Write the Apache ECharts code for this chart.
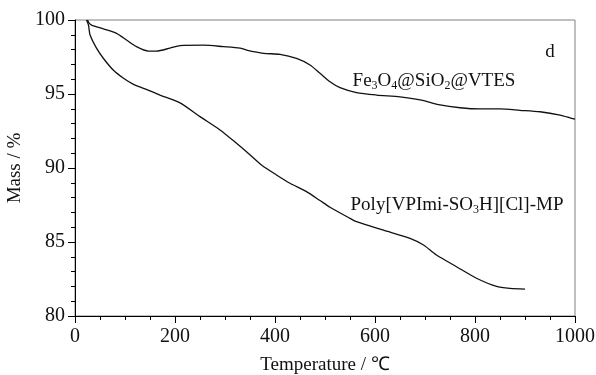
<!DOCTYPE html>
<html>
<head>
<meta charset="utf-8">
<script src="https://cdn.jsdelivr.net/npm/echarts@6/dist/echarts.min.js"></script>
<style>html,body{margin:0;padding:0;background:#fff}#c{width:596px;height:375px}</style>
</head>
<body>
<div id="c"></div>
<script>
// Temperature (°C) and mass (%)
var feTemp = [25,28,33,57,83,103,123,147,163,190,210,257,297,330,343,377,410,443,470,490,510,530,563,603,650,690,730,770,810,850,890,930,970,993,1000];
var feMass = [100,99.8,99.66,99.4,99.1,98.65,98.2,97.9,97.9,98.1,98.27,98.3,98.2,98.1,97.97,97.75,97.68,97.4,96.96,96.4,95.83,95.43,95.1,94.93,94.8,94.6,94.26,94.07,93.99,93.99,93.9,93.8,93.58,93.36,93.3];
var polyTemp = [23,27,30,43,57,77,97,117,140,170,210,250,290,323,343,373,403,430,463,490,510,550,563,617,670,697,723,763,803,843,870,900];
var polyMass = [100,99.66,99.0,98.1,97.4,96.6,96.06,95.65,95.35,94.93,94.4,93.47,92.57,91.67,91.1,90.2,89.53,88.97,88.4,87.8,87.35,86.6,86.37,85.8,85.25,84.8,84.12,83.33,82.55,82.0,81.87,81.82];
var xTicks = [0,200,400,600,800,1000];
var yTicks = [80,85,90,95,100];
var labels = {
  fe: {text: '{n|Fe}{s|3}{n|O}{s|4}{n|@SiO}{s|2}{n|@VTES}', x: 718, y: 95.9},
  poly: {text: '{n|Poly[VPImi-SO}{s|3}{n|H][Cl]-MP}', x: 764, y: 87.5},
  d: {text: '{n|d}', x: 950, y: 97.84}
};

function zip(a, b) { return a.map(function (v, i) { return [v, b[i]]; }); }

var FONT = '"Liberation Serif","Times New Roman",serif';
var chart = echarts.init(document.getElementById('c'), null, {renderer: 'canvas'});
var axisCommon = {
  axisLine: {show: true, lineStyle: {color: '#000', width: 1}},
  axisTick: {show: true, inside: false, length: 7, lineStyle: {color: '#000'}},
  minorTick: {show: true, length: 4, lineStyle: {color: '#000'}},
  splitLine: {show: false},
  nameTextStyle: {fontFamily: FONT, fontSize: 19, color: '#111'}
};
chart.setOption({
  animation: false,
  backgroundColor: '#fff',
  grid: {left: 75, right: 21, top: 20, bottom: 59, containLabel: false, outerBoundsMode: 'none',
         show: true, borderColor: '#808080', borderWidth: 1, backgroundColor: 'transparent'},
  xAxis: Object.assign({}, axisCommon, {
    type: 'value', min: xTicks[0], max: xTicks[xTicks.length - 1], interval: 200,
    minorTick: Object.assign({}, axisCommon.minorTick, {splitNumber: 4}),
    name: 'Temperature / ℃', nameLocation: 'middle', nameGap: 40,
    axisLabel: {fontFamily: FONT, fontSize: 20, color: '#111', margin: 11, formatter: function (v) { return String(v); }}
  }),
  yAxis: Object.assign({}, axisCommon, {
    type: 'value', min: yTicks[0], max: yTicks[yTicks.length - 1], interval: 5,
    minorTick: Object.assign({}, axisCommon.minorTick, {splitNumber: 5}),
    name: 'Mass / %', nameLocation: 'middle', nameGap: 48,
    axisLabel: {fontFamily: FONT, fontSize: 20, color: '#111', margin: 10, formatter: function (v) { return String(v); }}
  }),
  series: [
    {type: 'line', name: 'Fe3O4@SiO2@VTES', data: zip(feTemp, feMass), showSymbol: false, smooth: 0.25,
     lineStyle: {color: '#111', width: 1.3}},
    {type: 'line', name: 'Poly', data: zip(polyTemp, polyMass), showSymbol: false, smooth: 0.25,
     lineStyle: {color: '#111', width: 1.3}}
  ]
});

function textEl(l) {
  var p = chart.convertToPixel({gridIndex: 0}, [l.x, l.y]);
  return {
    type: 'text', x: p[0], y: p[1],
    style: {
      text: l.text, align: 'center', verticalAlign: 'middle',
      rich: {
        n: {fontFamily: FONT, fontSize: 19, fill: '#111', lineHeight: 22, verticalAlign: 'middle'},
        s: {fontFamily: FONT, fontSize: 12, fill: '#111', lineHeight: 12, verticalAlign: 'bottom'}
      }
    }
  };
}
chart.setOption({graphic: [textEl(labels.fe), textEl(labels.poly), textEl(labels.d)]});
</script>
</body>
</html>
